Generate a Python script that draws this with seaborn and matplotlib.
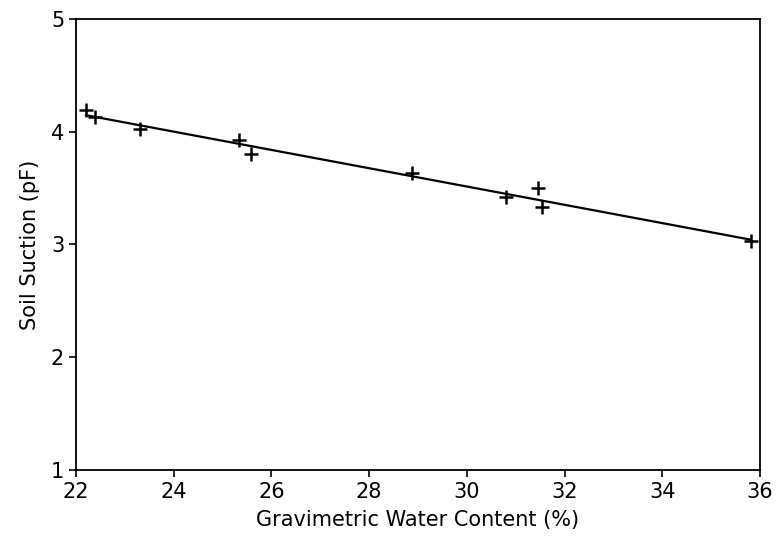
import numpy as np
import pandas as pd
import matplotlib
matplotlib.use("Agg")
import matplotlib.pyplot as plt
import seaborn as sns

# gravimetric water content (%) and soil suction (pF)
water_content = [22.20, 22.39, 23.31, 25.34, 25.58, 28.88, 30.80, 31.46, 31.54, 35.81]
suction_pf = [4.19, 4.13, 4.02, 3.93, 3.80, 3.63, 3.42, 3.50, 3.33, 3.03]
x_ticks = [22, 24, 26, 28, 30, 32, 34, 36]
y_ticks = [1, 2, 3, 4, 5]

df = pd.DataFrame({"wc": water_content, "pf": suction_pf})

sns.set_style("ticks")
plt.rcParams["font.family"] = ["DejaVu Sans"]

fig = plt.figure(figsize=(7.77, 5.42), dpi=100)
ax = fig.add_axes([0.0978, 0.133, 0.8802, 0.832])

sns.regplot(data=df, x="wc", y="pf", ax=ax, ci=None, marker="+",
            scatter_kws={"s": 110, "linewidths": 1.8, "color": "black", "alpha": 1},
            line_kws={"color": "black", "lw": 1.6})

ax.set_xlim(22, 36)
ax.set_ylim(1, 5)
ax.set_xticks(x_ticks)
ax.set_yticks(y_ticks)
ax.tick_params(direction="out", length=5, width=1.2, labelsize=15, colors="black")
for s in ax.spines.values():
    s.set_visible(True)
    s.set_linewidth(1.3)
    s.set_color("black")

ax.set_xlabel("Gravimetric Water Content (%)", fontsize=15, labelpad=6, color="black")
ax.set_ylabel("Soil Suction (pF)", fontsize=15, labelpad=8, color="black")

fig.savefig("out.png", dpi=100)
